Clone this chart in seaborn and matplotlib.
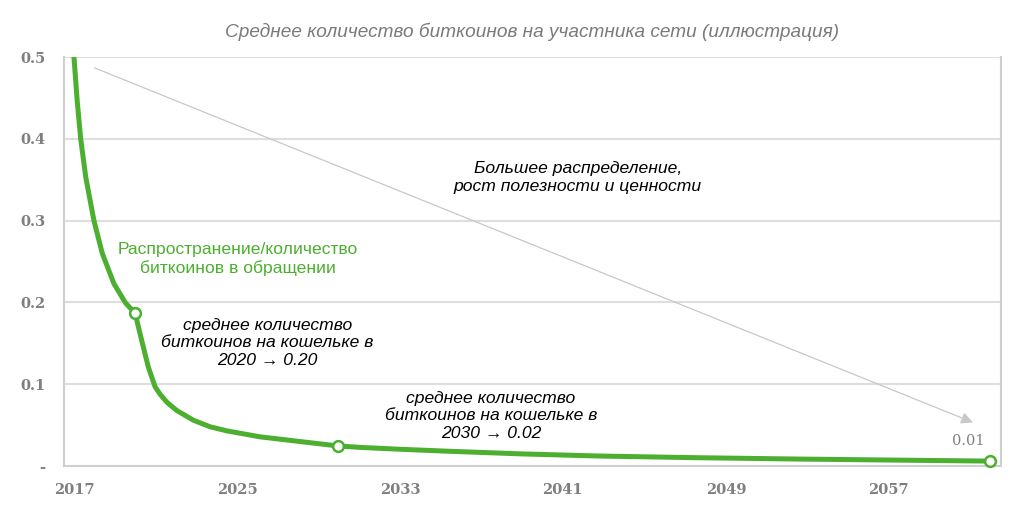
import matplotlib
matplotlib.use("Agg")
import matplotlib.pyplot as plt
import matplotlib.transforms as mtransforms
import seaborn as sns

# curve (year, average BTC per participant)
years = [2017.35, 2017.49, 2017.65, 2017.82, 2018.07, 2018.47, 2018.88, 2019.45,
         2020.03, 2020.49, 2020.81, 2021.14, 2021.47, 2021.71, 2022.05, 2022.53,
         2023.35, 2024.17, 2024.99, 2026.62, 2028.26, 2030.47, 2031.53, 2033.50,
         2035.95, 2039.50, 2043.30, 2048.00, 2053.10, 2058.00, 2062.46]
avg_btc = [0.560, 0.500, 0.446, 0.400, 0.353, 0.300, 0.260, 0.223,
           0.199, 0.187, 0.154, 0.121, 0.097, 0.088, 0.078, 0.068,
           0.056, 0.048, 0.043, 0.0357, 0.0309, 0.0245, 0.0228, 0.0205,
           0.0180, 0.0148, 0.0122, 0.0102, 0.0085, 0.0072, 0.0060]

marker_years = [2020.49, 2030.47, 2062.46]
marker_vals = [0.187, 0.0245, 0.006]

x_ticks = [2017, 2025, 2033, 2041, 2049, 2057]
y_ticks = [0, 0.1, 0.2, 0.3, 0.4, 0.5]
y_labels = ["-", "0.1", "0.2", "0.3", "0.4", "0.5"]

green = "#4caf30"
grid_grey = "#dedede"
tick_grey = "#7f7f7f"

sns.set_style("white")
plt.rcParams["font.family"] = ["Liberation Sans", "DejaVu Sans"]

fig = plt.figure(figsize=(10.27, 5.15), dpi=100)
ax = fig.add_axes([0.0623, 0.0951, 0.9124, 0.7942])

sns.lineplot(x=years, y=avg_btc, color=green, linewidth=3.6, ax=ax, zorder=3,
             solid_joinstyle="round", solid_capstyle="round")
sns.scatterplot(x=marker_years, y=marker_vals, color="white", edgecolor=green,
                linewidth=1.8, s=60, ax=ax, zorder=4, clip_on=False)

ax.set_xlim(2017, 2063)
ax.set_ylim(0, 0.5)

ax.set_yticks(y_ticks)
ax.set_yticklabels(y_labels)
ax.set_xticks(x_ticks)
ax.set_xticklabels([str(t) for t in x_ticks])

ax.grid(axis="y", color=grid_grey, linewidth=1.5)
ax.set_axisbelow(True)
for side in ["left", "bottom", "right"]:
    ax.spines[side].set_color("#cfcfcf")
    ax.spines[side].set_linewidth(1.5)
ax.spines["top"].set_visible(False)

ax.tick_params(axis="y", length=0, pad=13.5)
ax.tick_params(axis="x", length=3, width=1, color="#cfcfcf", pad=9)
for lab in ax.get_xticklabels() + ax.get_yticklabels():
    lab.set_family(["DejaVu Serif"])
    lab.set_fontweight("semibold")
    lab.set_fontsize(10.5)
    lab.set_color(tick_grey)
for lab in ax.get_xticklabels():
    lab.set_transform(lab.get_transform() + mtransforms.ScaledTranslation(0.1, 0, fig.dpi_scale_trans))

fig.text(0.518, 0.938, "Среднее количество биткоинов на участника сети (иллюстрация)",
         ha="center", va="center", fontsize=13.7, style="italic", color="#7a7a7a")

# grey trend arrow
ax.annotate("", xy=(2061.75, 0.052), xytext=(2018.37, 0.488),
            arrowprops=dict(arrowstyle="-|>,head_length=0.7,head_width=0.35",
                            color="#c8c8c8", linewidth=0.9))
ax.text(2061.38, 0.0305, "0.01", ha="center", va="center", fontsize=10.5,
        color=tick_grey, family=["DejaVu Serif"])

ax.text(2025.54, 0.253, "Распространение/количество\nбиткоинов в обращении",
        ha="center", va="center", fontsize=12.6, color=green, linespacing=1.25)
ax.text(2027.0, 0.1504, "среднее количество\nбиткоинов на кошельке в\n2020 → 0.20",
        ha="center", va="center", fontsize=12.6, style="italic", color="black",
        linespacing=1.22)
ax.text(2037.96, 0.0614, "среднее количество\nбиткоинов на кошельке в\n2030 → 0.02",
        ha="center", va="center", fontsize=12.6, style="italic", color="black",
        linespacing=1.22)
ax.text(2042.23, 0.353, "Большее распределение,\nрост полезности и ценности",
        ha="center", va="center", fontsize=12.6, style="italic", color="black",
        linespacing=1.22)

fig.savefig("out.png", dpi=100)
